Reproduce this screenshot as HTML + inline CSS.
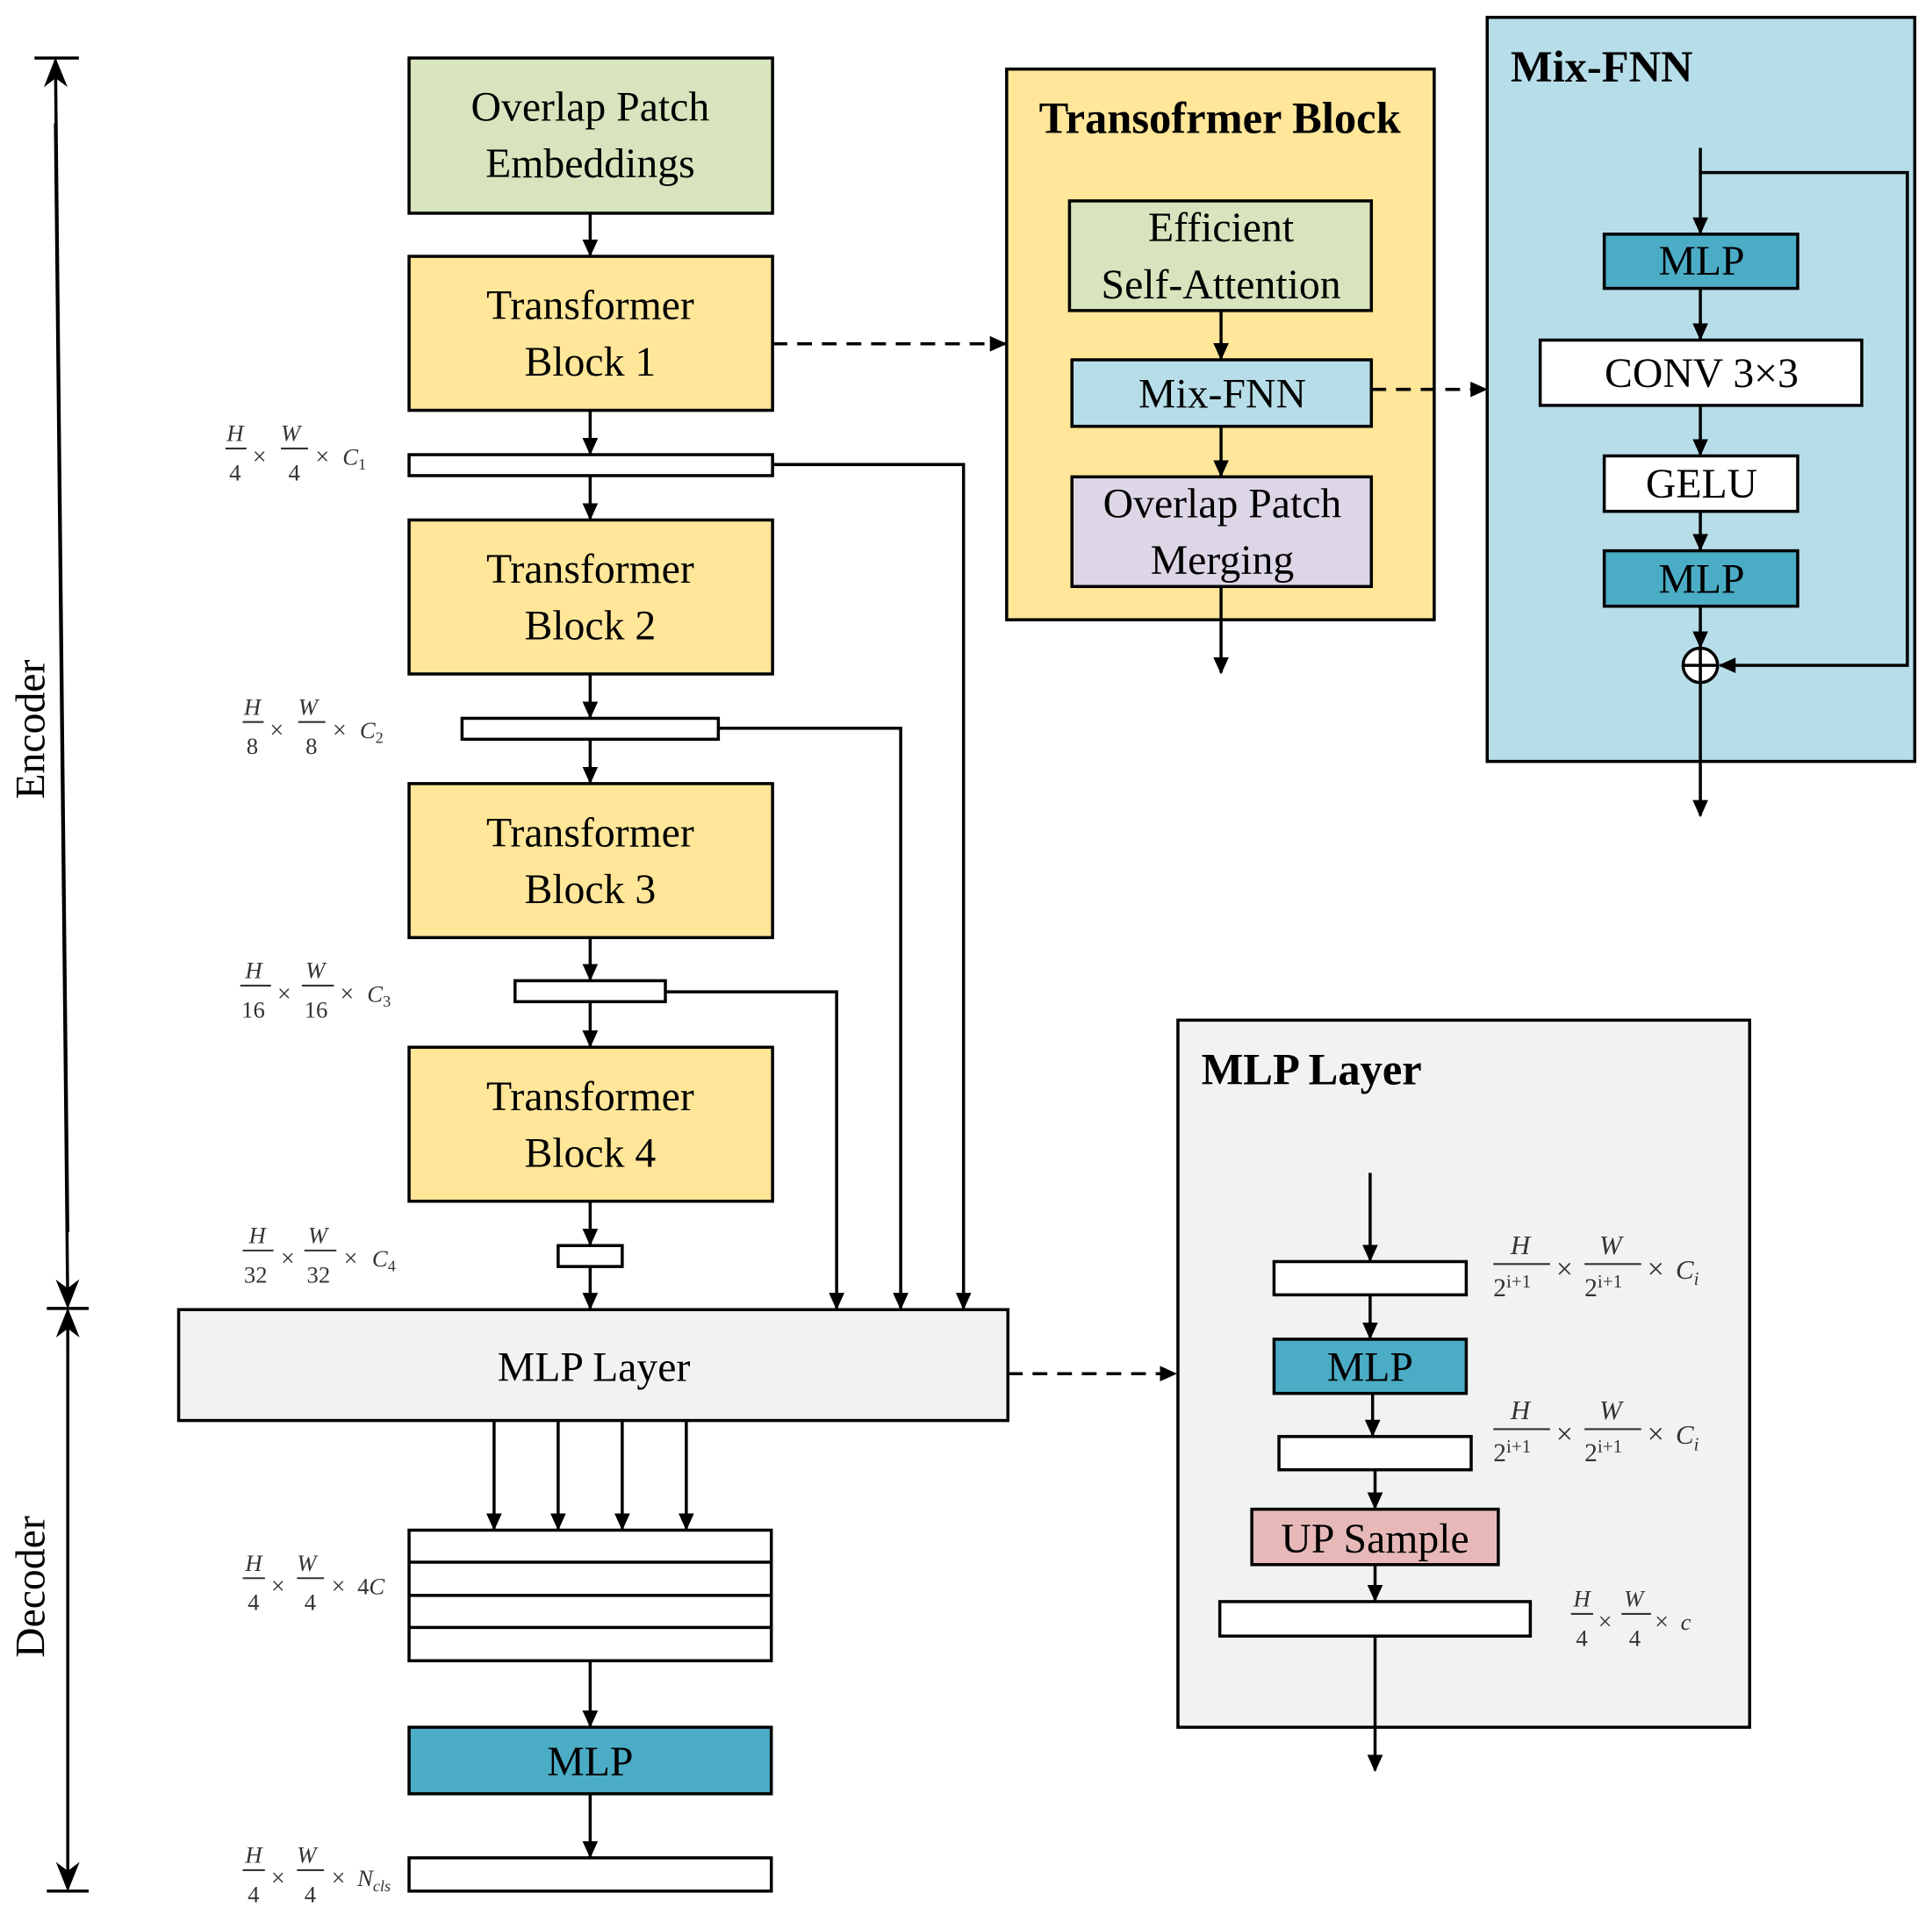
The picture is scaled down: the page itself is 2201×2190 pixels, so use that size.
<!DOCTYPE html>
<html><head><meta charset="utf-8"><style>
html,body{margin:0;padding:0;background:#fff}
svg{display:block}
text{font-family:"Liberation Serif",serif}
.b{font-size:34px;text-anchor:middle;fill:#000}
.t{font-size:36px;font-weight:bold;fill:#000}
.m{font-size:19px;font-style:italic;fill:#333}
.mn{font-size:19px;fill:#333}
.x{font-size:20px;fill:#333}
</style></head><body>
<svg width="2201" height="2190" viewBox="0 0 1568 1560" xmlns="http://www.w3.org/2000/svg">
<defs>
<marker id="a" viewBox="0 0 10 10" refX="9" refY="5" markerWidth="14" markerHeight="14" markerUnits="userSpaceOnUse" orient="auto"><path d="M0,0.5 L10,5 L0,9.5 z" fill="#000"/></marker>
<marker id="A" viewBox="0 0 10 10" refX="9" refY="5" markerWidth="24" markerHeight="24" markerUnits="userSpaceOnUse" orient="auto"><path d="M0,1 L10,5 L0,9 L3,5 z" fill="#000"/></marker>
</defs>
<g stroke="#000" stroke-width="2.5" fill="none">
<line x1="28" y1="47" x2="64" y2="47"/>
<line x1="38" y1="1062" x2="72" y2="1062"/>
<line x1="38" y1="1535" x2="72" y2="1535"/>
<line x1="55" y1="1000" x2="45" y2="49" marker-end="url(#A)"/>
<line x1="45" y1="100" x2="55" y2="1060" marker-end="url(#A)"/>
<line x1="55" y1="1100" x2="55" y2="1064" marker-end="url(#A)"/>
<line x1="55" y1="1100" x2="55" y2="1533" marker-end="url(#A)"/>
</g>
<text transform="translate(36,592) rotate(-90)" class="b" style="font-size:34px">Encoder</text>
<text transform="translate(36,1288) rotate(-90)" class="b" style="font-size:34px">Decoder</text>

<g stroke="#000" stroke-width="2.5">
<rect x="332" y="47" width="295" height="126" fill="#d7e4bd"/>
<rect x="332" y="208" width="295" height="125" fill="#ffe699"/>
<rect x="332" y="369" width="295" height="17" fill="#fff"/>
<rect x="332" y="422" width="295" height="125" fill="#ffe699"/>
<rect x="375" y="583" width="208" height="17" fill="#fff"/>
<rect x="332" y="636" width="295" height="125" fill="#ffe699"/>
<rect x="418" y="796" width="122" height="17" fill="#fff"/>
<rect x="332" y="850" width="295" height="125" fill="#ffe699"/>
<rect x="453" y="1011" width="52" height="17" fill="#fff"/>
<rect x="145" y="1063" width="673" height="90" fill="#f2f2f2"/>
<rect x="332" y="1242" width="294" height="106" fill="#fff"/>
<line x1="332" y1="1268" x2="626" y2="1268"/>
<line x1="332" y1="1295" x2="626" y2="1295"/>
<line x1="332" y1="1321" x2="626" y2="1321"/>
<rect x="332" y="1402" width="294" height="54" fill="#4bacc6"/>
<rect x="332" y="1508" width="294" height="27" fill="#fff"/>

<rect x="817" y="56" width="347" height="447" fill="#ffe699"/>
<rect x="868" y="163" width="245" height="89" fill="#d7e4bd"/>
<rect x="870" y="292" width="243" height="54" fill="#b7dee8"/>
<rect x="870" y="387" width="243" height="89" fill="#dcd6e6"/>

<rect x="1207" y="14" width="347" height="604" fill="#b7dee8"/>
<rect x="1302" y="190" width="157" height="44" fill="#4bacc6"/>
<rect x="1250" y="276" width="261" height="53" fill="#fff"/>
<rect x="1302" y="370" width="157" height="45" fill="#fff"/>
<rect x="1302" y="447" width="157" height="45" fill="#4bacc6"/>

<rect x="956" y="828" width="464" height="574" fill="#f2f2f2"/>
<rect x="1034" y="1024" width="156" height="27" fill="#fff"/>
<rect x="1034" y="1087" width="156" height="44" fill="#4bacc6"/>
<rect x="1038" y="1166" width="156" height="27" fill="#fff"/>
<rect x="1016" y="1225" width="200" height="45" fill="#e6b9b8"/>
<rect x="990" y="1300" width="252" height="28" fill="#fff"/>
</g>

<g stroke="#000" stroke-width="2.5" fill="none" marker-end="url(#a)">
<line x1="479" y1="173" x2="479" y2="207"/>
<line x1="479" y1="333" x2="479" y2="368"/>
<line x1="479" y1="386" x2="479" y2="421"/>
<line x1="479" y1="547" x2="479" y2="582"/>
<line x1="479" y1="600" x2="479" y2="635"/>
<line x1="479" y1="761" x2="479" y2="795"/>
<line x1="479" y1="813" x2="479" y2="849"/>
<line x1="479" y1="975" x2="479" y2="1010"/>
<line x1="479" y1="1028" x2="479" y2="1062"/>
<polyline points="627,377 782,377 782,1062"/>
<polyline points="583,591 731,591 731,1062"/>
<polyline points="540,805 679,805 679,1062"/>
<line x1="401" y1="1153" x2="401" y2="1241"/>
<line x1="453" y1="1153" x2="453" y2="1241"/>
<line x1="505" y1="1153" x2="505" y2="1241"/>
<line x1="557" y1="1153" x2="557" y2="1241"/>
<line x1="479" y1="1348" x2="479" y2="1401"/>
<line x1="479" y1="1456" x2="479" y2="1507"/>
<line x1="627" y1="279" x2="816" y2="279" stroke-dasharray="12,8"/>
<line x1="1113" y1="316" x2="1206" y2="316" stroke-dasharray="12,8"/>
<line x1="818" y1="1115" x2="954" y2="1115" stroke-dasharray="12,8"/>
<line x1="991" y1="252" x2="991" y2="291"/>
<line x1="991" y1="346" x2="991" y2="386"/>
<line x1="991" y1="476" x2="991" y2="546"/>
<line x1="1380" y1="120" x2="1380" y2="189"/>
<line x1="1380" y1="234" x2="1380" y2="275"/>
<line x1="1380" y1="329" x2="1380" y2="369"/>
<line x1="1380" y1="415" x2="1380" y2="446"/>
<line x1="1380" y1="492" x2="1380" y2="525"/>
<polyline points="1380,140 1548,140 1548,540 1396,540"/>
<line x1="1380" y1="554" x2="1380" y2="662"/>
<line x1="1112" y1="952" x2="1112" y2="1023"/>
<line x1="1112" y1="1051" x2="1112" y2="1086"/>
<line x1="1114" y1="1131" x2="1114" y2="1165"/>
<line x1="1116" y1="1193" x2="1116" y2="1224"/>
<line x1="1116" y1="1270" x2="1116" y2="1299"/>
<line x1="1116" y1="1328" x2="1116" y2="1437"/>
</g>
<g stroke="#000" stroke-width="2.5" fill="#fff">
<circle cx="1380" cy="540" r="14"/>
<line x1="1366" y1="540" x2="1394" y2="540"/><line x1="1380" y1="526" x2="1380" y2="554"/>
</g>

<text class="b" x="479" y="98">Overlap Patch</text>
<text class="b" x="479" y="144">Embeddings</text>
<text class="b" x="479" y="259">Transformer</text>
<text class="b" x="479" y="305">Block 1</text>
<text class="b" x="479" y="473">Transformer</text>
<text class="b" x="479" y="519">Block 2</text>
<text class="b" x="479" y="687">Transformer</text>
<text class="b" x="479" y="733">Block 3</text>
<text class="b" x="479" y="901">Transformer</text>
<text class="b" x="479" y="947">Block 4</text>
<text class="b" x="482" y="1121">MLP Layer</text>
<text class="b" x="479" y="1441">MLP</text>
<text class="t" x="990" y="108" text-anchor="middle">Transofrmer Block</text>
<text class="b" x="991" y="196">Efficient</text>
<text class="b" x="991" y="242">Self-Attention</text>
<text class="b" x="992" y="331">Mix-FNN</text>
<text class="b" x="992" y="420">Overlap Patch</text>
<text class="b" x="992" y="466">Merging</text>
<text class="t" x="1226" y="66">Mix-FNN</text>
<text class="b" x="1381" y="223">MLP</text>
<text class="b" x="1381" y="314">CONV 3×3</text>
<text class="b" x="1381" y="404">GELU</text>
<text class="b" x="1381" y="481">MLP</text>
<text class="t" x="975" y="880">MLP Layer</text>
<text class="b" x="1112" y="1121">MLP</text>
<text class="b" x="1116" y="1260">UP Sample</text>

<g stroke="#333" stroke-width="1.5">
<line x1="183" y1="364" x2="200" y2="364"/><line x1="228" y1="364" x2="250" y2="364"/>
<line x1="197" y1="586" x2="214" y2="586"/><line x1="242" y1="586" x2="264" y2="586"/>
<line x1="195" y1="800" x2="220" y2="800"/><line x1="245" y1="800" x2="271" y2="800"/>
<line x1="197" y1="1015" x2="222" y2="1015"/><line x1="247" y1="1015" x2="273" y2="1015"/>
<line x1="197" y1="1281" x2="215" y2="1281"/><line x1="241" y1="1281" x2="263" y2="1281"/>
<line x1="197" y1="1518" x2="215" y2="1518"/><line x1="241" y1="1518" x2="263" y2="1518"/>
<line x1="1212" y1="1026" x2="1258" y2="1026"/><line x1="1286" y1="1026" x2="1332" y2="1026"/>
<line x1="1212" y1="1160" x2="1258" y2="1160"/><line x1="1286" y1="1160" x2="1332" y2="1160"/>
<line x1="1275" y1="1310" x2="1293" y2="1310"/><line x1="1316" y1="1310" x2="1340" y2="1310"/>
</g>
<g>
<text class="m" x="184" y="358">H</text><text class="mn" x="186" y="390">4</text><text class="x" x="205" y="377">×</text>
<text class="m" x="228" y="358">W</text><text class="mn" x="234" y="390">4</text><text class="x" x="256" y="377">×</text>
<text class="m" x="278" y="377">C<tspan font-size="13" dy="4" font-style="normal">1</tspan></text>

<text class="m" x="198" y="580">H</text><text class="mn" x="200" y="612">8</text><text class="x" x="219" y="599">×</text>
<text class="m" x="242" y="580">W</text><text class="mn" x="248" y="612">8</text><text class="x" x="270" y="599">×</text>
<text class="m" x="292" y="599">C<tspan font-size="13" dy="4" font-style="normal">2</tspan></text>

<text class="m" x="199" y="794">H</text><text class="mn" x="196" y="826">16</text><text class="x" x="225" y="813">×</text>
<text class="m" x="248" y="794">W</text><text class="mn" x="247" y="826">16</text><text class="x" x="276" y="813">×</text>
<text class="m" x="298" y="813">C<tspan font-size="13" dy="4" font-style="normal">3</tspan></text>

<text class="m" x="202" y="1009">H</text><text class="mn" x="198" y="1041">32</text><text class="x" x="228" y="1028">×</text>
<text class="m" x="250" y="1009">W</text><text class="mn" x="249" y="1041">32</text><text class="x" x="279" y="1028">×</text>
<text class="m" x="302" y="1028">C<tspan font-size="13" dy="4" font-style="normal">4</tspan></text>

<text class="m" x="199" y="1275">H</text><text class="mn" x="201" y="1307">4</text><text class="x" x="220" y="1294">×</text>
<text class="m" x="241" y="1275">W</text><text class="mn" x="247" y="1307">4</text><text class="x" x="269" y="1294">×</text>
<text class="mn" x="290" y="1294">4<tspan font-style="italic">C</tspan></text>

<text class="m" x="199" y="1512">H</text><text class="mn" x="201" y="1544">4</text><text class="x" x="220" y="1531">×</text>
<text class="m" x="241" y="1512">W</text><text class="mn" x="247" y="1544">4</text><text class="x" x="269" y="1531">×</text>
<text class="m" x="290" y="1531">N<tspan font-size="13" dy="4">cls</tspan></text>

<text class="m" x="1226" y="1018" style="font-size:22px">H</text><text class="mn" x="1212" y="1052" style="font-size:21px">2<tspan font-size="15" dy="-7">i+1</tspan></text><text class="x" x="1263" y="1038" style="font-size:24px">×</text>
<text class="m" x="1298" y="1018" style="font-size:22px">W</text><text class="mn" x="1286" y="1052" style="font-size:21px">2<tspan font-size="15" dy="-7">i+1</tspan></text><text class="x" x="1337" y="1038" style="font-size:24px">×</text>
<text class="m" x="1360" y="1038" style="font-size:22px">C<tspan font-size="15" dy="5">i</tspan></text>

<text class="m" x="1226" y="1152" style="font-size:22px">H</text><text class="mn" x="1212" y="1186" style="font-size:21px">2<tspan font-size="15" dy="-7">i+1</tspan></text><text class="x" x="1263" y="1172" style="font-size:24px">×</text>
<text class="m" x="1298" y="1152" style="font-size:22px">W</text><text class="mn" x="1286" y="1186" style="font-size:21px">2<tspan font-size="15" dy="-7">i+1</tspan></text><text class="x" x="1337" y="1172" style="font-size:24px">×</text>
<text class="m" x="1360" y="1172" style="font-size:22px">C<tspan font-size="15" dy="5">i</tspan></text>

<text class="m" x="1277" y="1304">H</text><text class="mn" x="1279" y="1336">4</text><text class="x" x="1297" y="1323">×</text>
<text class="m" x="1318" y="1304">W</text><text class="mn" x="1322" y="1336">4</text><text class="x" x="1343" y="1323">×</text>
<text class="m" x="1364" y="1323">c</text>
</g>
</svg>
</body></html>
